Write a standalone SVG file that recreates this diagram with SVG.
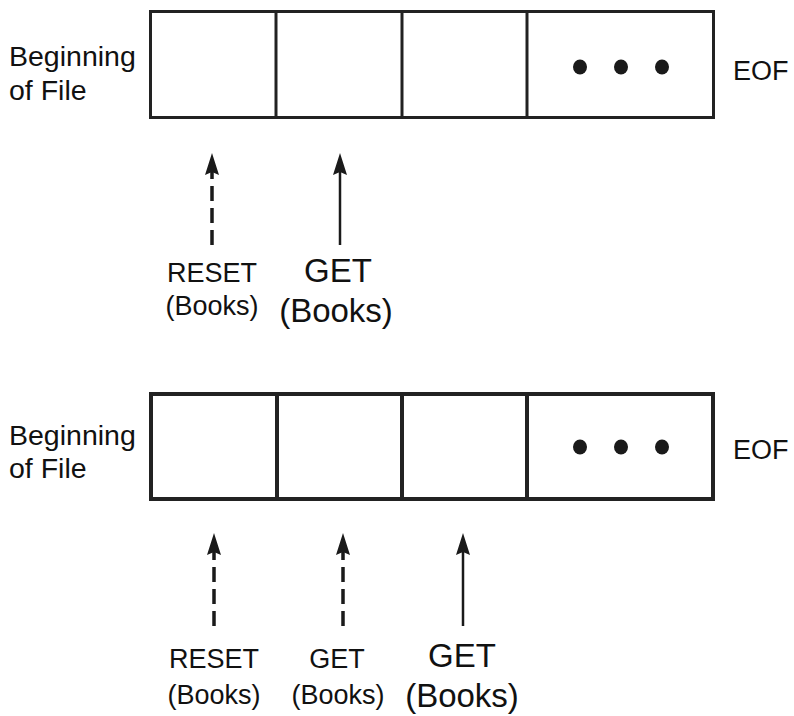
<svg xmlns="http://www.w3.org/2000/svg" width="794" height="716" viewBox="0 0 794 716">
<style>
text{font-family:"Liberation Sans",Arial,sans-serif;fill:#111}
.sm{font-size:27px}
.bg{font-size:28.5px}
.lg{font-size:33px}
.c{text-anchor:middle}
.box{fill:#fff;stroke:#222}
.arr{stroke:#1a1a1a;fill:none}
.dash{stroke-width:3.5;stroke-dasharray:15 7}
.solid{stroke-width:2.5}
.dot{fill:#1a1a1a}
</style>
<defs>
<marker id="ah" viewBox="0 0 22 14" refX="10" refY="7" markerWidth="22" markerHeight="14" markerUnits="userSpaceOnUse" orient="auto">
<path d="M22 7 L0 0 L3 7 L0 14 Z" fill="#1a1a1a"/>
</marker>
</defs>
<g id="file1">
<rect class="box" x="150.5" y="11.5" width="563" height="106" stroke-width="3"/>
<line x1="276" y1="11" x2="276" y2="118" stroke="#222" stroke-width="3"/>
<line x1="402" y1="11" x2="402" y2="118" stroke="#222" stroke-width="3"/>
<line x1="527" y1="11" x2="527" y2="118" stroke="#222" stroke-width="3"/>
<ellipse class="dot" cx="580" cy="67" rx="7" ry="7.5"/>
<ellipse class="dot" cx="621" cy="67" rx="7" ry="7.5"/>
<ellipse class="dot" cx="662" cy="67" rx="7" ry="7.5"/>
<text x="9" y="66" class="bg">Beginning</text>
<text x="9" y="100" class="bg">of File</text>
<text x="733" y="80" class="sm">EOF</text>
</g>
<g id="file2">
<rect class="box" x="151" y="394" width="562" height="105" stroke-width="4"/>
<line x1="277" y1="393" x2="277" y2="500" stroke="#222" stroke-width="4"/>
<line x1="402" y1="393" x2="402" y2="500" stroke="#222" stroke-width="4"/>
<line x1="527" y1="393" x2="527" y2="500" stroke="#222" stroke-width="4"/>
<ellipse class="dot" cx="580" cy="447" rx="7" ry="7.5"/>
<ellipse class="dot" cx="621" cy="447" rx="7" ry="7.5"/>
<ellipse class="dot" cx="662" cy="447" rx="7" ry="7.5"/>
<text x="9" y="445" class="bg">Beginning</text>
<text x="9" y="478" class="bg">of File</text>
<text x="733" y="459" class="sm">EOF</text>
</g>
<g id="labels">
<text x="212" y="282" class="sm c">RESET</text>
<text x="212" y="315" class="sm c">(Books)</text>
<text x="338" y="282" class="lg c">GET</text>
<text x="336" y="322" class="lg c">(Books)</text>
<text x="214" y="668" class="sm c">RESET</text>
<text x="214" y="704" class="sm c">(Books)</text>
<text x="337" y="668" class="sm c">GET</text>
<text x="338" y="704" class="sm c">(Books)</text>
<text x="462" y="667" class="lg c">GET</text>
<text x="462" y="707" class="lg c">(Books)</text>
</g>
<g id="connectors">
<line class="arr dash" x1="212" y1="245" x2="212" y2="165" marker-end="url(#ah)"/>
<line class="arr solid" x1="340" y1="245" x2="340" y2="165" marker-end="url(#ah)"/>
<line class="arr dash" x1="214" y1="626" x2="214" y2="545" marker-end="url(#ah)"/>
<line class="arr dash" x1="343" y1="626" x2="343" y2="545" marker-end="url(#ah)"/>
<line class="arr solid" x1="463" y1="626" x2="463" y2="545" marker-end="url(#ah)"/>
</g>
</svg>
